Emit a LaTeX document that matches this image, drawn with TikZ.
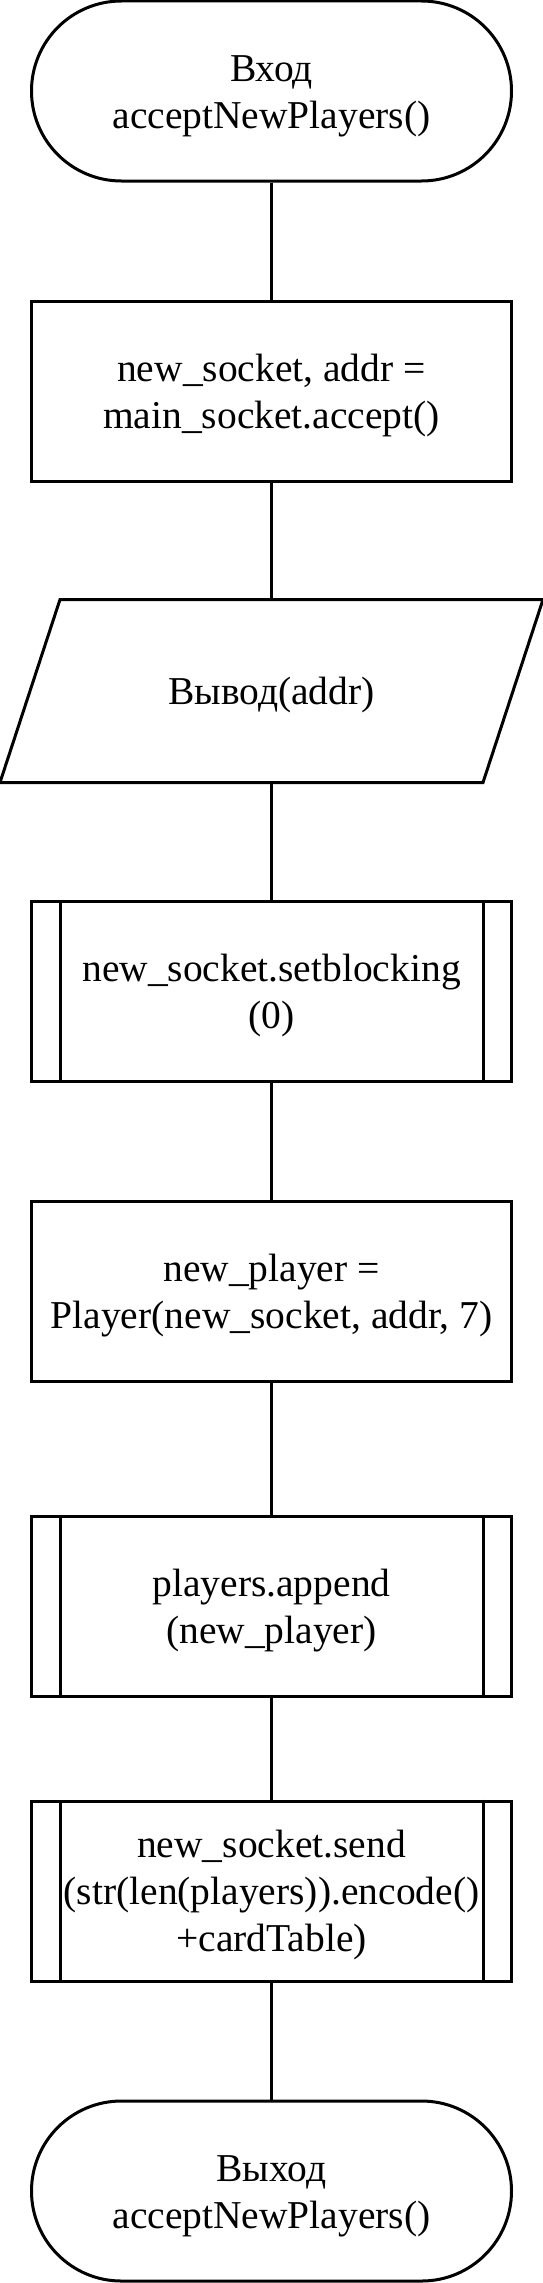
\documentclass[tikz,border=0pt]{standalone}
\usepackage{fontspec}
\setmainfont{Liberation Serif}
\newcommand\sline{\rule[-10pt]{0pt}{47pt}}
\begin{document}
\begin{tikzpicture}[x=1pt,y=-1pt,line width=3pt,
  txt/.style={minimum width=480pt,minimum height=180pt,inner sep=0pt,align=center,
    font=\fontsize{39.5}{47}\selectfont},
  box/.style={txt,draw},
  term/.style={box,rounded corners=89.9pt},
  conn/.style={draw,line width=3pt}]
\useasboundingbox (0,0) rectangle (543,2283);
\node[term] (t1) at (271.5,91) {\sline Вход\\\sline acceptNewPlayers()};
\node[box] (r1) at (271.5,391) {\sline new\_socket, addr =\\\sline main\_socket.accept()};
\node[txt] (io) at (271.5,691) {\sline Вывод(addr)};
\draw ([xshift=30pt]io.north west) -- ([xshift=30pt]io.north east)
  -- ([xshift=-30pt]io.south east) -- ([xshift=-30pt]io.south west) -- cycle;
\node[box] (p1) at (271.5,991) {\sline new\_socket.setblocking\\\sline (0)};
\node[box] (r2) at (271.5,1291) {\sline new\_player =\\\sline Player(new\_socket, addr, 7)};
\node[box] (p2) at (271.5,1606) {\sline players.append\\\sline (new\_player)};
\node[box] (p3) at (271.5,1891) {\sline new\_socket.send\\\sline (str(len(players)).encode()\\\sline +cardTable)};
\node[term] (t2) at (271.5,2191) {\sline Выход\\\sline acceptNewPlayers()};
\foreach \n in {p1,p2,p3}{
  \draw ([xshift=30pt]\n.north west) -- ([xshift=30pt]\n.south west);
  \draw ([xshift=-30pt]\n.north east) -- ([xshift=-30pt]\n.south east);
}
\path[conn] (t1) -- (r1);
\path[conn] (r1) -- (io);
\path[conn] (io) -- (p1);
\path[conn] (p1) -- (r2);
\path[conn] (r2) -- (p2);
\path[conn] (p2) -- (p3);
\path[conn] (p3) -- (t2);
\end{tikzpicture}
\end{document}
